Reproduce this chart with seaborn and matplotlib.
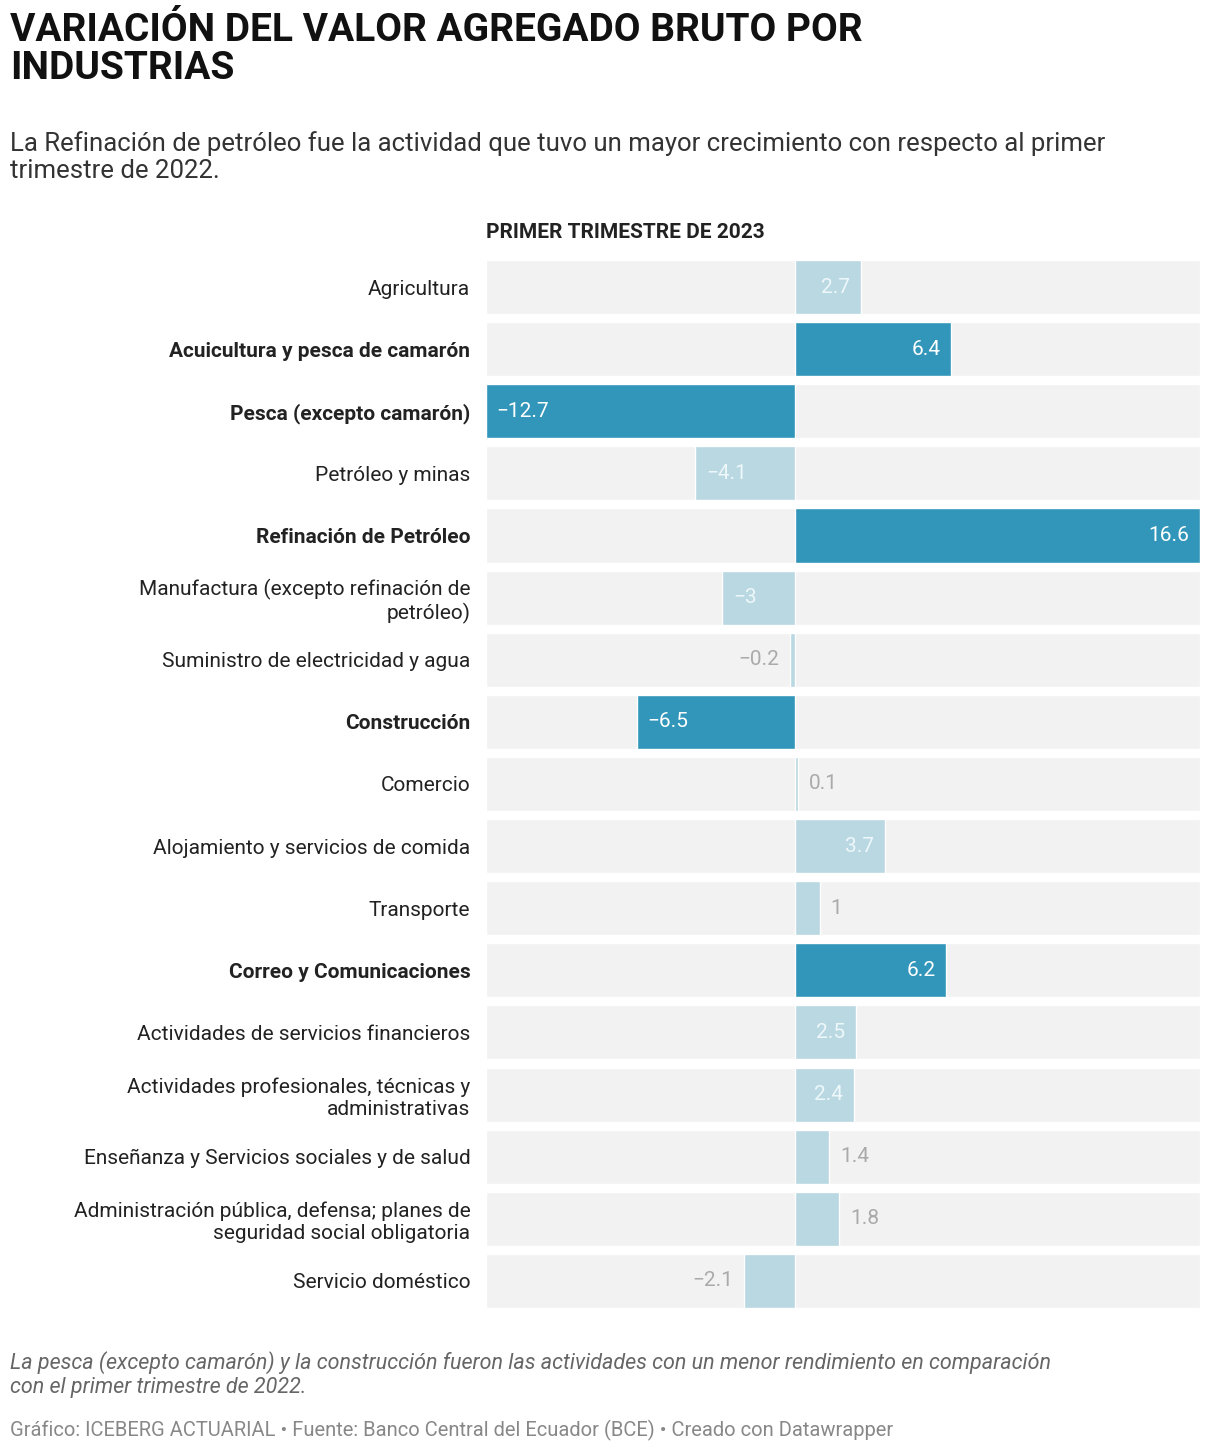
import matplotlib
matplotlib.use("Agg")
import matplotlib.pyplot as plt
import seaborn as sns
import pandas as pd

industrias = ["Agricultura", "Acuicultura y pesca de camarón", "Pesca (excepto camarón)",
              "Petróleo y minas", "Refinación de Petróleo",
              "Manufactura (excepto refinación de\npetróleo)", "Suministro de electricidad y agua",
              "Construcción", "Comercio", "Alojamiento y servicios de comida", "Transporte",
              "Correo y Comunicaciones", "Actividades de servicios financieros",
              "Actividades profesionales, técnicas y\nadministrativas",
              "Enseñanza y Servicios sociales y de salud",
              "Administración pública, defensa; planes de\nseguridad social obligatoria",
              "Servicio doméstico"]
valores = [2.7, 6.4, -12.7, -4.1, 16.6, -3, -0.2, -6.5, 0.1, 3.7, 1, 6.2, 2.5, 2.4, 1.4, 1.8, -2.1]
destacado = [False, True, True, False, True, False, False, True, False, False, False,
             True, False, False, False, False, False]
etiquetas = ["2.7", "6.4", "\u221212.7", "\u22124.1", "16.6", "\u22123", "\u22120.2", "\u22126.5",
             "0.1", "3.7", "1", "6.2", "2.5", "2.4", "1.4", "1.8", "\u22122.1"]

df = pd.DataFrame({"ind": industrias, "val": valores,
                   "tipo": ["dest" if d else "norm" for d in destacado]})

sns.set_theme(style="white")
plt.rcParams["font.family"] = ["Roboto", "DejaVu Sans"]

OSCURO, CLARO = "#1ba1cf", "#b2dce9"
fig = plt.figure(figsize=(12.2, 14.56), dpi=100)
ax = fig.add_axes([0.398, 0.0989, 0.5856, 0.7253])
xmin, xmax = min(valores), max(valores)
ax.barh(range(len(industrias)), [xmax - xmin] * len(industrias), left=xmin,
        height=0.87, color="#f2f2f2", zorder=0)
sns.barplot(data=df, y="ind", x="val", hue="tipo", palette={"dest": OSCURO, "norm": CLARO},
            orient="h", width=0.87, dodge=False, legend=False, ax=ax, zorder=2)
ax.set_xlim(xmin, xmax)
ax.set_ylim(len(industrias) - 0.5, -0.5)
ax.set_xlabel("")
ax.set_ylabel("")
ax.set_xticks([])
for s in ax.spines.values():
    s.set_visible(False)
ax.tick_params(axis="y", length=0, pad=11)
ax.set_yticks(range(len(industrias)))
ax.set_yticklabels(industrias, fontsize=15, color="#222222", ha="right", multialignment="right")
for t, d in zip(ax.get_yticklabels(), destacado):
    if d:
        t.set_fontweight("bold")

for i, (v, lab, d) in enumerate(zip(valores, etiquetas, destacado)):
    inside = abs(v) >= 2.3
    off = 0.45
    if inside:
        col = "white" if d else "#eef7fa"
        if v > 0:
            ax.text(v - off, i, lab, ha="right", va="center", fontsize=15, color=col, zorder=3)
        else:
            ax.text(v + off, i, lab, ha="left", va="center", fontsize=15, color=col, zorder=3)
    else:
        if v > 0:
            ax.text(v + off, i, lab, ha="left", va="center", fontsize=15, color="#aaaaaa", zorder=3)
        else:
            ax.text(v - off, i, lab, ha="right", va="center", fontsize=15, color="#aaaaaa", zorder=3)

fig.text(0.398, 0.8405, "PRIMER TRIMESTRE DE 2023", fontsize=15, fontweight="bold",
         color="#222222", va="center")
fig.text(0.008, 0.992, "VARIACIÓN DEL VALOR AGREGADO BRUTO POR\nINDUSTRIAS", fontsize=28,
         fontweight="bold", color="#111111", va="top", linespacing=1.05)
fig.text(0.008, 0.91, "La Refinación de petróleo fue la actividad que tuvo un mayor crecimiento con respecto al primer\ntrimestre de 2022.",
         fontsize=18.5, color="#333333", va="top", linespacing=1.15)
fig.text(0.008, 0.072, "La pesca (excepto camarón) y la construcción fueron las actividades con un menor rendimiento en comparación\ncon el primer trimestre de 2022.",
         fontsize=15.5, style="italic", color="#666666", va="top", linespacing=1.15)
fig.text(0.008, 0.0175, "Gráfico: ICEBERG ACTUARIAL • Fuente: Banco Central del Ecuador (BCE) • Creado con Datawrapper",
         fontsize=14.5, color="#888888", va="center")

fig.savefig("out.png", dpi=100)
